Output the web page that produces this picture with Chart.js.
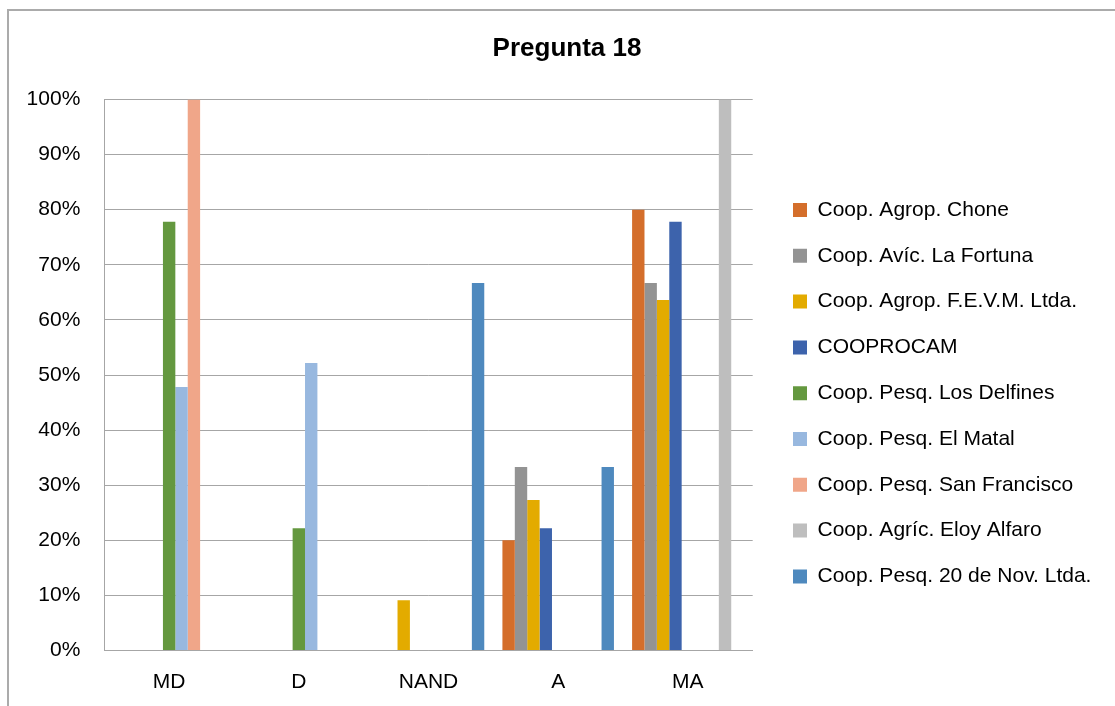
<!DOCTYPE html>
<html><head><meta charset="utf-8">
<script src="https://cdn.jsdelivr.net/npm/chart.js@4/dist/chart.umd.min.js"></script>
<style>
html,body{margin:0;padding:0;background:#fff;overflow:hidden;width:1115px;height:706px}
#wrap{position:absolute;left:0;top:0;width:1115px;height:706px}
#frame{position:absolute;left:7px;top:9px;width:1200px;height:800px;border:2px solid #ababab;pointer-events:none}
</style></head><body>
<div id="wrap"><canvas id="c" width="1115" height="706"></canvas></div>
<div id="frame"></div>
<script>
// ---- data ----
const titleText = 'Pregunta 18';
const categories = ['MD', 'D', 'NAND', 'A', 'MA'];
const yTicks = [0, 10, 20, 30, 40, 50, 60, 70, 80, 90, 100];

const seriesNames = [
  'Coop. Agrop. Chone',
  'Coop. Avíc. La Fortuna',
  'Coop. Agrop. F.E.V.M. Ltda.',
  'COOPROCAM',
  'Coop. Pesq. Los Delfines',
  'Coop. Pesq. El Matal',
  'Coop. Pesq. San Francisco',
  'Coop. Agríc. Eloy Alfaro',
  'Coop. Pesq. 20 de Nov. Ltda.'
];
const chone        = [null, null, null, 20.0, 80.0];
const laFortuna    = [null, null, null, 33.3, 66.7];
const fevm         = [null, null, 9.1, 27.3, 63.6];
const cooprocam    = [null, null, null, 22.2, 77.8];
const losDelfines  = [77.8, 22.2, null, null, null];
const elMatal      = [47.8, 52.2, null, null, null];
const sanFrancisco = [100.0, null, null, null, null];
const eloyAlfaro   = [null, null, null, null, 100.0];
const veinteNov    = [null, null, 66.7, 33.3, null];

const seriesValues = [chone, laFortuna, fevm, cooprocam, losDelfines, elMatal, sanFrancisco, eloyAlfaro, veinteNov];
const seriesColors = ['#D46E2B', '#939393', '#E3AB00', '#3D63AC', '#64983F', '#98B8DF', '#F0A689', '#BEBEBE', '#4E89BE'];

// ---- layout constants ----
const FONT = "'Liberation Sans', Arial, sans-serif";
const LEG_FS = 21, LEG_PAD = 24.8, LEG_BOX = 14;
const plotLeft = 104.3, plotRight = 752.7, plotBottom = 650.5;

const mctx = document.createElement('canvas').getContext('2d');
mctx.font = LEG_FS + 'px ' + FONT;
const tw = Math.max(...seriesNames.map(s => mctx.measureText(s).width));
const legendW = LEG_PAD + LEG_BOX + LEG_FS / 2 + tw + 10;
const padRight = Math.max(0, 1115 - plotRight - legendW);

const placePlugin = {
  id: 'place',
  afterLayout(chart) {
    const lg = chart.legend;
    if (lg) {
      const h = lg.bottom - lg.top, w = lg.right - lg.left;
      lg.left = 793 - LEG_PAD; lg.right = lg.left + w;
      lg.top = 210 - LEG_FS / 2 - LEG_PAD; lg.bottom = lg.top + h;
    }
    const tb = chart.titleBlock;
    if (tb) {
      const d = 567 - (tb.left + tb.right) / 2;
      tb.left += d; tb.right += d;
    }
  }
};

new Chart(document.getElementById('c'), {
  type: 'bar',
  data: {
    labels: categories,
    datasets: seriesNames.map((n, i) => ({
      label: n,
      data: seriesValues[i],
      backgroundColor: seriesColors[i],
      borderWidth: 0,
      categoryPercentage: 0.86,
      barPercentage: 1.0
    }))
  },
  options: {
    responsive: false,
    animation: false,
    devicePixelRatio: 1,
    layout: { padding: { left: 8, right: padRight, top: 0, bottom: 0 } },
    plugins: {
      title: {
        display: true, text: titleText, color: '#000',
        font: { family: FONT, size: 26, weight: 'bold', lineHeight: 1.2 },
        padding: { top: 33.5, bottom: 34.8 }
      },
      legend: {
        display: true, position: 'right', align: 'start',
        maxWidth: legendW + 2,
        labels: {
          color: '#000', font: { family: FONT, size: LEG_FS },
          boxWidth: LEG_BOX, boxHeight: LEG_BOX, padding: LEG_PAD
        }
      },
      tooltip: { enabled: false }
    },
    scales: {
      x: {
        grid: { display: false, drawTicks: false },
        border: { display: true, color: '#a6a6a6', width: 1 },
        ticks: { color: '#000', font: { family: FONT, size: 21 }, padding: 19, maxRotation: 0 },
        afterFit(s) { s.height = 706 - plotBottom; }
      },
      y: {
        min: 0, max: 100,
        afterBuildTicks(s) { s.ticks = yTicks.map(v => ({ value: v })); },
        grid: { color: '#a6a6a6', lineWidth: 1, drawTicks: false },
        border: { display: true, color: '#a6a6a6', width: 1 },
        ticks: { color: '#000', font: { family: FONT, size: 21 }, padding: 24, callback: v => v + '%' },
        afterFit(s) { s.width = plotLeft - 8; }
      }
    }
  },
  plugins: [placePlugin]
});
</script>
</body></html>
